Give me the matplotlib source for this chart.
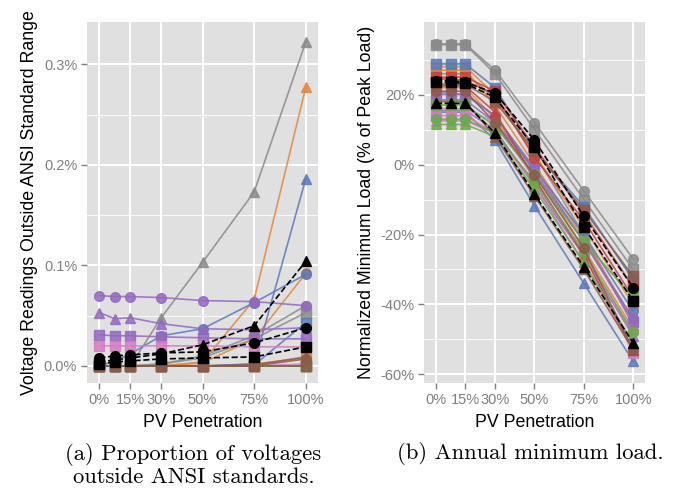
import numpy as np
import matplotlib
matplotlib.use("Agg")
import matplotlib.pyplot as plt
from matplotlib.ticker import FixedLocator, FuncFormatter

plt.rcParams["font.family"] = ["Liberation Sans", "DejaVu Sans"]

# PV penetration levels (%)
pv = [0, 7.5, 15, 30, 50, 75, 100]
pv_ticks = [0, 15, 30, 50, 75, 100]
pv_labels = ["0%", "15%", "30%", "50%", "75%", "100%"]

# feeder styling keys
feeder_color = ["gray", "gray", "gray", "orange", "orange", "orange", "blue", "blue", "blue",
                "purple", "purple", "purple", "pink", "pink", "pink", "red", "red", "red",
                "green", "green", "green", "brown", "brown", "brown", "black", "black", "black"]
feeder_shape = ["o", "^", "s"] * 9

# (a) voltage readings outside ANSI range, % of readings
ansi_pct = [
    [0, 0, 0, 0.002, 0.010, 0.030, 0.060],
    [0, 0, 0, 0.048, 0.103, 0.173, 0.322],
    [0, 0, 0, 0.002, 0.008, 0.027, 0.053],
    [0, 0, 0, 0, 0.003, 0.027, 0.092],
    [0, 0, 0, 0, 0.004, 0.066, 0.277],
    [0, 0, 0, 0, 0, 0.002, 0.008],
    [0, 0.005, 0.012, 0.030, 0.037, 0.063, 0.091],
    [0, 0, 0, 0, 0, 0.002, 0.186],
    [0, 0, 0, 0, 0, 0.001, 0.043],
    [0.070, 0.069, 0.069, 0.068, 0.065, 0.064, 0.060],
    [0.053, 0.047, 0.048, 0.042, 0.037, 0.036, 0.038],
    [0.031, 0.030, 0.030, 0.029, 0.028, 0.027, 0.027],
    [0, 0, 0, 0, 0, 0, 0],
    [0, 0, 0, 0, 0, 0, 0.002],
    [0.020, 0.020, 0.020, 0.020, 0.020, 0.019, 0.019],
    [0, 0, 0, 0, 0, 0, 0],
    [0, 0, 0, 0, 0, 0, 0],
    [0, 0, 0, 0, 0, 0, 0],
    [0, 0, 0, 0, 0, 0, 0],
    [0, 0, 0, 0, 0, 0, 0],
    [0, 0, 0, 0, 0, 0, 0],
    [0, 0, 0, 0, 0, 0, 0.007],
    [0, 0, 0, 0, 0, 0.001, 0.009],
    [0, 0, 0, 0, 0, 0, 0],
    [0.008, 0.010, 0.011, 0.013, 0.014, 0.023, 0.038],
    [0.004, 0.006, 0.008, 0.012, 0.021, 0.040, 0.104],
    [0.002, 0.004, 0.005, 0.007, 0.008, 0.009, 0.019],
]

# (b) annual minimum load, % of peak load
min_load = [
    [34.5, 34.5, 34.5, 27, 12, -7.5, -27],
    [26, 26, 26, 19, 3, -20, -46],
    [34.3, 34.3, 34.3, 26, 10, -10, -30],
    [27, 27, 27, 17, 0, -21, -44.4],
    [22, 22, 22, 13, -2, -24, -47],
    [28, 28, 28, 20, 3, -18, -40],
    [20, 20, 20, 14, -1, -20, -42],
    [15, 15, 15, 7, -11.8, -34, -56.3],
    [28.8, 28.8, 28.8, 22, 4, -12, -33],
    [20.5, 20.5, 20, 14, -2, -22, -44],
    [15.5, 15.5, 15.5, 10, -6, -26, -49],
    [18.5, 18.5, 18.5, 12, -1, -22, -45],
    [16, 16, 16, 12, -4, -26, -48],
    [12.5, 12.5, 12.5, 9, -6, -28, -53],
    [14, 14, 14, 9, -5, -25, -54],
    [24.5, 24.5, 24, 20, 2, -16, -38],
    [22.5, 22.5, 22.5, 15, -4, -26, -53],
    [25, 25, 25, 21, 5, -14, -35],
    [13, 13, 13, 9, -5, -25, -48],
    [11.5, 11.5, 11.5, 8, -7, -28, -51],
    [17, 17, 17, 11, -3, -22, -38],
    [21, 21, 21, 12, -3, -24, -53],
    [18, 18, 18, 8, -9, -30, -53],
    [23, 23, 23, 18, 4, -13, -32],
    [24, 24, 23.5, 20.5, 7, -14.8, -35.2],
    [17.5, 17.5, 17.5, 9, -8.5, -29.3, -51],
    [23.5, 23.5, 23.2, 19.2, 5, -17.8, -39],
]

palette = {
    "gray": "#8a8a8a", "orange": "#e0883c", "blue": "#5a79b8", "purple": "#9468c0",
    "pink": "#d47cc4", "red": "#c4423b", "green": "#6aaa4c", "brown": "#8b5a4b",
    "black": "#000000",
}

fig = plt.figure(figsize=(6.74, 4.88), dpi=100)
ax1 = fig.add_axes([0.129, 0.215, 0.343, 0.74])
ax2 = fig.add_axes([0.629, 0.215, 0.328, 0.74])


def style_axis(ax, major, minor, fmt):
    ax.set_facecolor("#e0e0e0")
    for sp in ax.spines.values():
        sp.set_visible(False)
    ax.xaxis.set_major_locator(FixedLocator(pv_ticks))
    ax.set_xticklabels(pv_labels)
    ax.yaxis.set_major_locator(FixedLocator(major))
    ax.yaxis.set_minor_locator(FixedLocator(minor))
    ax.yaxis.set_major_formatter(FuncFormatter(fmt))
    ax.grid(which="major", color="white", lw=1.4)
    ax.grid(which="minor", axis="y", color="white", lw=0.6)
    ax.set_axisbelow(True)
    ax.tick_params(which="major", length=4, width=1, color="#7f7f7f",
                   labelcolor="#7f7f7f", labelsize=10.5, pad=3)
    ax.tick_params(which="minor", length=0)
    ax.set_xlim(-6, 106)
    ax.set_xlabel("PV Penetration", fontsize=12.8, labelpad=5)


def draw(ax, rows):
    order = [i for i in range(len(rows)) if feeder_color[i] != "black"] + \
            [i for i in range(len(rows)) if feeder_color[i] == "black"]
    for i in order:
        c = palette[feeder_color[i]]
        black = feeder_color[i] == "black"
        ax.plot(pv, rows[i], color=c, lw=1.2, ls="--" if black else "-",
                marker=feeder_shape[i], ms=7, mec=c, mfc=c,
                alpha=1.0 if black else 0.85, zorder=3 if black else 2)


draw(ax1, ansi_pct)
style_axis(ax1, [0, 0.1, 0.2, 0.3], [0.05, 0.15, 0.25], lambda v, p: f"{v:.1f}%")
ax1.set_ylim(-0.017, 0.342)
ax1.set_ylabel("Voltage Readings Outside ANSI Standard Range", fontsize=12.8)

draw(ax2, min_load)
style_axis(ax2, [-60, -40, -20, 0, 20], [-50, -30, -10, 10, 30], lambda v, p: f"{v:.0f}%")
ax2.set_ylim(-62.5, 40.8)
ax2.set_ylabel("Normalized Minimum Load (% of Peak Load)", fontsize=12.8)

fig.text(0.287, 0.047, "(a) Proportion of voltages\noutside ANSI standards.",
         ha="center", va="center", family="cmr10", fontsize=16.3, linespacing=1.1)
fig.text(0.787, 0.0717, "(b) Annual minimum load.",
         ha="center", va="center", family="cmr10", fontsize=16.3)

fig.savefig("out.png", dpi=100)
